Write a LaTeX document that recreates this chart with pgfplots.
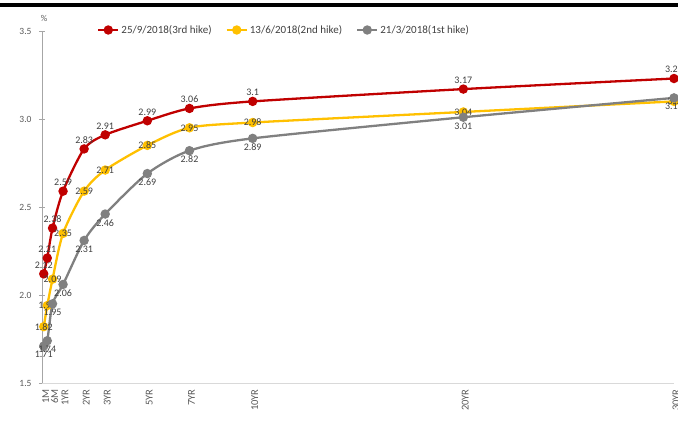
\documentclass[border=0pt]{standalone}
\usepackage{fontspec}
\setmainfont{Carlito}
\usepackage{pgfplots}
\pgfplotsset{compat=1.18}
\definecolor{cred}{HTML}{C00000}
\definecolor{cyel}{HTML}{FFC000}
\definecolor{cgray}{HTML}{808080}
\definecolor{lbl}{HTML}{404040}
\definecolor{tickc}{HTML}{595959}
\definecolor{axc}{HTML}{A6A6A6}
\definecolor{axx}{HTML}{D9D9D9}
\begin{document}
\begin{tikzpicture}[x=1pt,y=1pt]
\begin{axis}[
  at={(0,0)}, anchor=south west,
  scale only axis, width=632pt, height=352pt,
  xmin=0, xmax=30, ymin=1.5, ymax=3.5,
  clip=false,
  /pgf/number format/assume math mode=true,
  axis x line=bottom, axis y line=left,
  x axis line style={draw=axx, line width=0.8pt, -},
  y axis line style={draw=axc, line width=0.8pt, -},
  xtick={0.0833,0.5,1,2,3,5,7,10,20,30},
  xticklabels={1M,6M,1YR,2YR,3YR,5YR,7YR,10YR,20YR,30YR},
  xtick style={draw=none},
  xticklabel style={rotate=90, anchor=east, font=\fontsize{10.5}{11}\selectfont, text=tickc, yshift=-2pt},
  ytick={1.5,2,2.5,3,3.5},
  yticklabel style={/pgf/number format/.cd, fixed, fixed zerofill, precision=1, /tikz/.cd, font=\fontsize{9.5}{11}\selectfont, text=tickc, xshift=-4pt},
  ytick style={draw=axc, line width=0.8pt},
  major tick length=6pt, tick align=center,
  legend style={at={(0.383,1)}, anchor=center, yshift=1pt, draw=none, fill=none,
    legend columns=-1, font=\fontsize{11}{13}\selectfont, text=lbl,
    /tikz/every even column/.append style={column sep=12pt}},
  legend image code/.code={\draw[mark repeat=2,mark phase=2] plot coordinates {(0pt,0pt) (10pt,0pt) (20pt,0pt)};},
  every node near coord/.append style={font=\fontsize{10}{11}\selectfont, text=lbl},
]
\addplot[cred, line width=2.3pt, smooth, tension=0.45, mark=*, mark size=3.5pt, mark options={fill=cred, draw=cred},
  nodes near coords, every node near coord/.append style={anchor=south, yshift=1pt}]
  coordinates {(0.0833,2.12) (0.25,2.21) (0.5,2.38) (1,2.59) (2,2.83) (3,2.91) (5,2.99) (7,3.06) (10,3.1) (20,3.17) (30,3.23)};
\addlegendentry{25/9/2018(3rd hike)}
\addplot[cyel, line width=2.3pt, smooth, tension=0.45, mark=*, mark size=3.5pt, mark options={fill=cyel, draw=cyel},
  nodes near coords, every node near coord/.append style={anchor=center}]
  coordinates {(0.0833,1.82) (0.25,1.94) (0.5,2.09) (1,2.35) (2,2.59) (3,2.71) (5,2.85) (7,2.95) (10,2.98) (20,3.04) (30,3.1)};
\addlegendentry{13/6/2018(2nd hike)}
\addplot[cgray, line width=2.3pt, smooth, tension=0.45, mark=*, mark size=3.5pt, mark options={fill=cgray, draw=cgray},
  nodes near coords, every node near coord/.append style={anchor=north, yshift=-1pt}]
  coordinates {(0.0833,1.71) (0.25,1.74) (0.5,1.95) (1,2.06) (2,2.31) (3,2.46) (5,2.69) (7,2.82) (10,2.89) (20,3.01) (30,3.12)};
\addlegendentry{21/3/2018(1st hike)}
\end{axis}
\fill[black] (-42,376) rectangle (636,380);
\node[font=\fontsize{9}{10}\selectfont, text=tickc] at (2,365) {\%};
\pgfresetboundingbox
\useasboundingbox (-42,-40) rectangle (636,383);
\end{tikzpicture}
\end{document}
